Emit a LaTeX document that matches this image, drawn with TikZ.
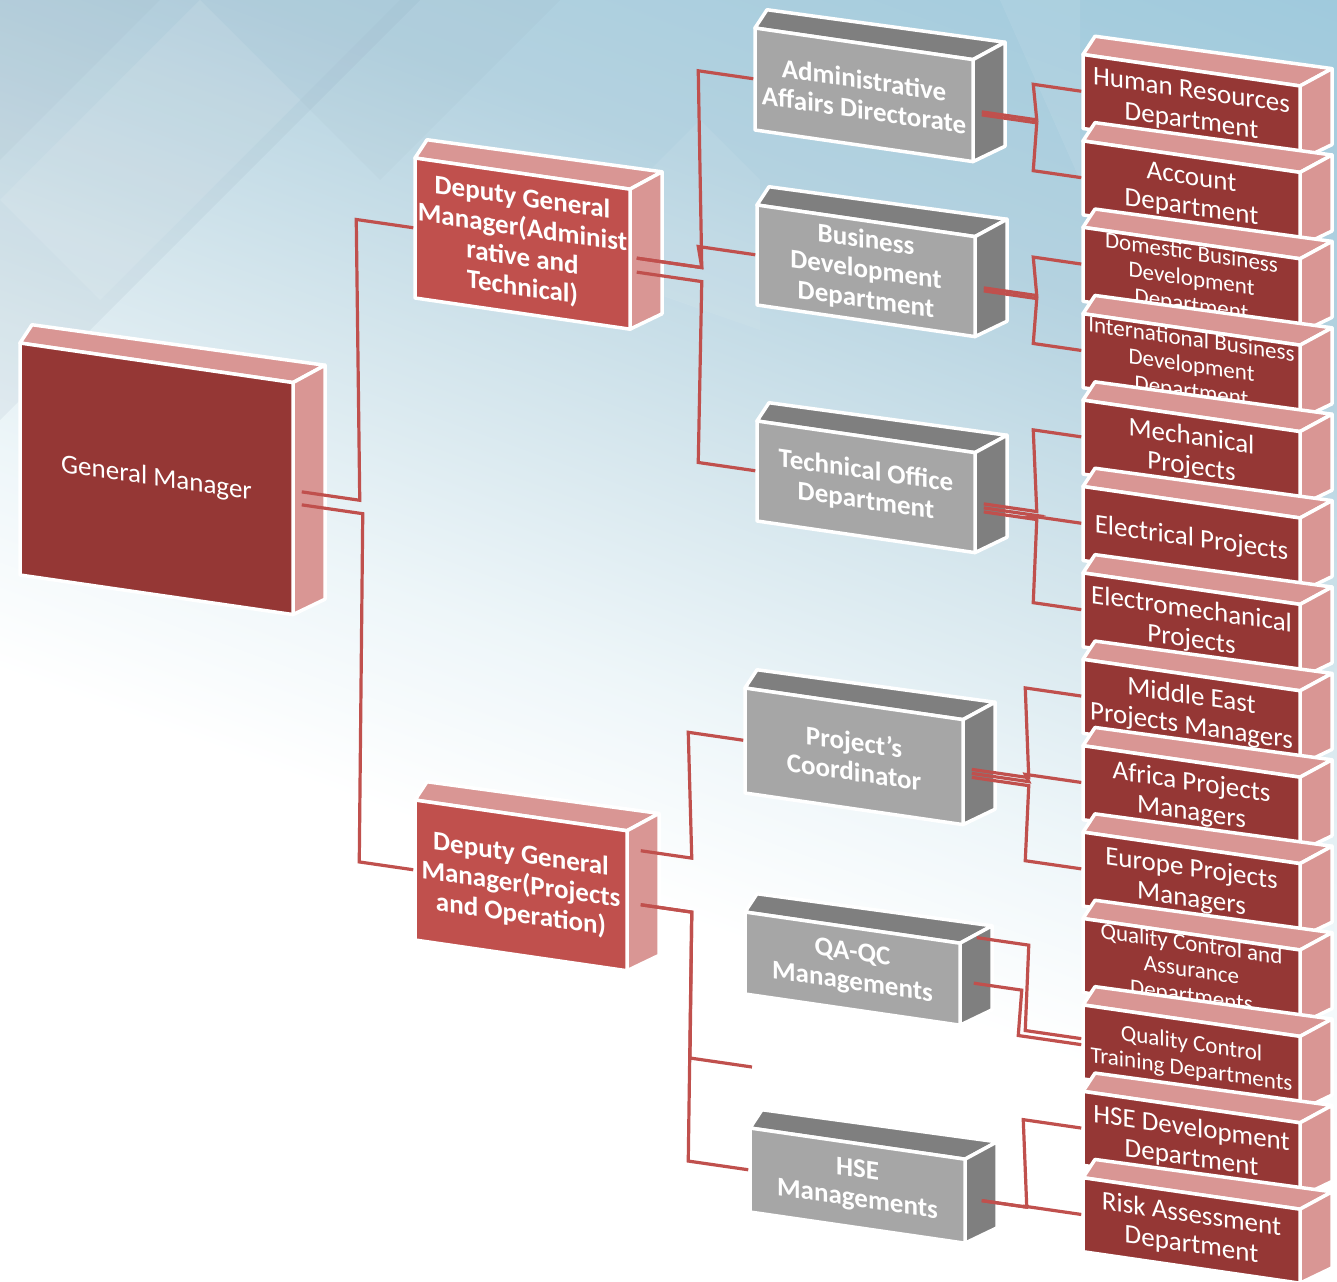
\documentclass[tikz,border=0pt]{standalone}
\usepackage{fontspec}
\setmainfont{Carlito}
\usetikzlibrary{calc}
\definecolor{gmred}{HTML}{953735}
\definecolor{depred}{HTML}{C0504D}
\definecolor{pinkside}{HTML}{D99694}
\definecolor{grayfront}{HTML}{A6A6A6}
\definecolor{grayside}{HTML}{7F7F7F}
\definecolor{linered}{HTML}{C0504D}
\definecolor{bgA}{HTML}{86C0D8}
\definecolor{bgB}{HTML}{B4D2E0}
\definecolor{bgC}{HTML}{D5E6ED}
\definecolor{bgE}{HTML}{EEF6F9}
\definecolor{bgD}{HTML}{7F98AA}
\pgfdeclareverticalshading{bgshade}{100bp}{color(0bp)=(white); color(40bp)=(white); color(48bp)=(bgE); color(57bp)=(bgC); color(68bp)=(bgB); color(100bp)=(bgA)}
\newcommand{\slk}{0.145}
\newcommand{\gmfnt}{\fontsize{27}{31}\selectfont}
\newcommand{\bdfnt}{\bfseries\fontsize{27}{30}\selectfont}
\newcommand{\smfnt}{\fontsize{27}{30}\selectfont}
\newcommand{\thfnt}{\fontsize{23}{26}\selectfont}
% #1 name, #2 X, #3 Y (screen top-left of front), #4 w, #5 h, #6 front, #7 side, #8 font, #9 text
\newcommand{\tdbox}[9]{%
  \pgfmathsetmacro{\bx}{#2}%
  \pgfmathsetmacro{\by}{#3-\slk*#2}%
  \pgfmathsetmacro{\bw}{#4}%
  \pgfmathsetmacro{\bh}{#5}%
  \fill[#7, draw=white, line width=3.5pt, line join=round] (\bx,\by) -- (\bx+12,\by-20) -- (\bx+\bw+32,\by-22) -- (\bx+\bw,\by) -- cycle;
  \fill[#7, draw=white, line width=3.5pt, line join=round] (\bx+\bw,\by) -- (\bx+\bw+32,\by-22) -- (\bx+\bw+32,\by+\bh-20) -- (\bx+\bw,\by+\bh) -- cycle;
  \node[transform shape, face, fill=#6, minimum width=\bw pt, minimum height=\bh pt] (#1) at (\bx+\bw/2,\by+\bh/2) {};
  \node[transform shape, boxtext, font=#8] (#1-t) at (#1.center) {#9};
}
% #1 src, #2 dy, #3 start dx, #4 bus dx, #5 target, #6 target bus dx, #7 target dy
\newcommand{\cnx}[7]{%
  \draw[conn] ($(#1.east)+(#3,#2)$) -- ($(#1.east)+(#4,#2)$) -- ($(#5.west)+(#6,#7)$) -- ($(#5.west)+(0,#7)$);
}
\begin{document}
\begin{tikzpicture}[x=1pt,y=-1pt,
  conn/.style={draw=linered, line width=3.2pt, line join=miter},
  face/.style={draw=white, line width=3.5pt, inner sep=0pt, rectangle, line join=round},
  boxtext/.style={text=white, align=center, inner sep=0pt}]
\useasboundingbox (0,0) rectangle (1337,1281);
\shade[shading=bgshade, shading angle=-20] (0,0) rectangle (1337,1281);
% faint diamond facets
\fill[bgD, opacity=0.10] (0,0) -- (420,0) -- (0,420) -- cycle;
\fill[bgD, opacity=0.07] (0,0) -- (160,0) -- (0,160) -- cycle;
\fill[white, opacity=0.10] (0,200) -- (200,0) -- (300,100) -- (100,300) -- cycle;
\fill[bgD, opacity=0.06] (300,100) -- (400,0) -- (560,0) -- (380,180) -- cycle;
\fill[white, opacity=0.08] (560,260) -- (700,120) -- (760,180) -- (760,330) -- cycle;
\fill[white, opacity=0.08] (1000,0) -- (1080,0) -- (1080,180) -- cycle;
\begin{scope}[yslant=-0.145]
  \tdbox{gm}{20}{343}{273}{232}{gmred}{pinkside}{\gmfnt}{General Manager}
  \tdbox{dep1}{415}{158}{215}{140}{depred}{pinkside}{\bdfnt}{Deputy General\\Manager(Administ\\rative and\\Technical)}
  \tdbox{dep2}{415}{800}{212}{140}{depred}{pinkside}{\bdfnt}{Deputy General\\Manager(Projects\\and Operation)}
  \tdbox{adm}{755}{28}{218}{102}{grayfront}{grayside}{\bdfnt}{Administrative\\Affairs Directorate}
  \tdbox{bus}{757}{205}{218}{100}{grayfront}{grayside}{\bdfnt}{Business\\Development\\Department}
  \tdbox{tech}{757}{421}{218}{100}{grayfront}{grayside}{\bdfnt}{Technical Office\\Department}
  \tdbox{pc}{745}{688}{218}{105}{grayfront}{grayside}{\bdfnt}{Project’s\\Coordinator}
  \tdbox{qa}{745}{912}{215}{82}{grayfront}{grayside}{\bdfnt}{QA-QC\\Managements}
  \tdbox{hse}{750}{1128}{215}{84}{grayfront}{grayside}{\bdfnt}{HSE\\Managements}
  \coordinate (stub) at (752,{1067-0.145*752});
  % connectors
  \cnx{gm}{-8}{7}{65}{dep1}{-57}{0}
  \cnx{gm}{5}{7}{68}{dep2}{-54}{0}
  \cnx{dep1}{-2}{5}{70}{adm}{-55}{0}
  \cnx{dep1}{-2}{5}{70}{bus}{-57}{0}
  \cnx{dep1}{12}{5}{70}{tech}{-57}{0}
  \cnx{dep2}{-52}{12}{63}{pc}{-55}{0}
  \cnx{dep2}{2}{12}{63}{hse}{-60}{0}
  \draw[conn] ($(dep2.east)+(12,2)$) -- ($(dep2.east)+(63,2)$) -- ($(stub)+(-62,0)$) -- (stub);
  % right column
  \tdbox{hr}{1083}{54.5}{217}{74}{gmred}{pinkside}{\smfnt}{Human Resources\\Department}
  \tdbox{acc}{1083}{140.9}{217}{74}{gmred}{pinkside}{\smfnt}{Account\\Department}
  \tdbox{dom}{1083}{227.3}{217}{74}{gmred}{pinkside}{\thfnt}{Domestic Business\\Development\\Department}
  \tdbox{intl}{1083}{313.7}{217}{74}{gmred}{pinkside}{\thfnt}{International Business\\Development\\Department}
  \tdbox{mech}{1083}{400.1}{217}{74}{gmred}{pinkside}{\smfnt}{Mechanical\\Projects}
  \tdbox{elec}{1083}{486.5}{217}{74}{gmred}{pinkside}{\smfnt}{Electrical Projects}
  \tdbox{emech}{1083}{572.9}{217}{74}{gmred}{pinkside}{\smfnt}{Electromechanical\\Projects}
  \tdbox{me}{1083}{659.3}{217}{74}{gmred}{pinkside}{\smfnt}{Middle East\\Projects Managers}
  \tdbox{afr}{1083}{745.7}{217}{74}{gmred}{pinkside}{\smfnt}{Africa Projects\\Managers}
  \tdbox{eur}{1083}{832.1}{217}{74}{gmred}{pinkside}{\smfnt}{Europe Projects\\Managers}
  \tdbox{qca}{1083}{918.5}{217}{74}{gmred}{pinkside}{\thfnt}{Quality Control and\\Assurance\\Departments}
  \tdbox{qct}{1083}{1004.9}{217}{74}{gmred}{pinkside}{\thfnt}{Quality Control\\Training Departments}
  \tdbox{hsed}{1083}{1091.3}{217}{74}{gmred}{pinkside}{\smfnt}{HSE Development\\Department}
  \tdbox{risk}{1083}{1177.7}{217}{74}{gmred}{pinkside}{\smfnt}{Risk Assessment\\Department}
  % connectors to right column
  \cnx{adm}{0}{7}{62}{hr}{-48}{0}
  \cnx{adm}{3}{7}{62}{acc}{-48}{0}
  \cnx{bus}{0}{7}{60}{dom}{-48}{0}
  \cnx{bus}{3}{7}{60}{intl}{-48}{0}
  \cnx{tech}{0}{7}{60}{mech}{-48}{0}
  \cnx{tech}{4}{7}{60}{elec}{-48}{0}
  \cnx{tech}{8}{7}{60}{emech}{-48}{0}
  \cnx{pc}{-4}{7}{64}{me}{-56}{0}
  \cnx{pc}{0}{7}{64}{afr}{-56}{0}
  \cnx{pc}{4}{7}{64}{eur}{-56}{0}
  \cnx{qa}{-49}{15}{67}{qct}{-56}{-3}
  \cnx{qa}{-3}{12}{60}{qct}{-63}{3}
  \cnx{hse}{-3}{15}{60}{hsed}{-58}{0}
  \cnx{hse}{-3}{15}{60}{risk}{-58}{0}
\end{scope}
\end{tikzpicture}
\end{document}
